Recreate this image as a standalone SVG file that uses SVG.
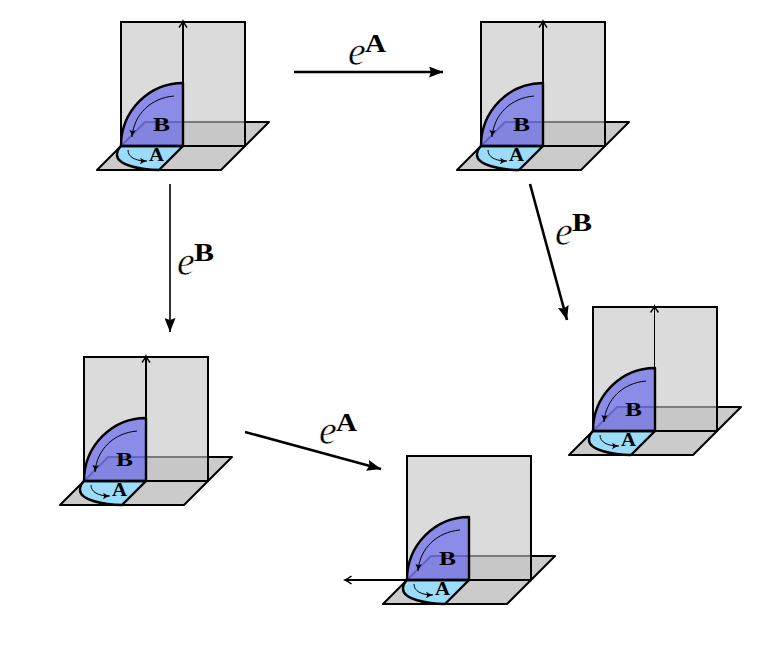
<svg xmlns="http://www.w3.org/2000/svg" width="762" height="668" viewBox="0 0 762 668">
<style>
.floor{fill:#cbcbcb;stroke:#000;stroke-width:2;stroke-linejoin:round}
.plane{fill:#c5c5c5;fill-opacity:.62}
.edge{fill:none;stroke:#000;stroke-width:2;stroke-linejoin:miter}
.secB{fill:#5555f0;fill-opacity:.6}
.secBe{fill:none;stroke:#000;stroke-width:2.4;stroke-linejoin:round}
.secA{fill:#9adcfa;stroke:#000;stroke-width:2.4;stroke-linejoin:round}
.thin{fill:none;stroke:#000;stroke-width:1;marker-end:url(#t)}
.axis{fill:none;stroke:#000;stroke-width:2;marker-end:url(#o)}
.conn{fill:none;stroke:#000;marker-end:url(#h)}
.lbl{font-family:"Liberation Serif",serif;font-weight:bold;font-size:18px;fill:#000}
.e{font-family:"Liberation Serif",serif;font-style:italic;font-size:40px;fill:#000;stroke:#fff;stroke-width:.5}
.sup{font-family:"Liberation Serif",serif;font-weight:bold;font-size:25px;fill:#000}
</style>
<defs>
<marker id="h" viewBox="0 0 14 11" refX="14" refY="5.5" markerWidth="14" markerHeight="11" markerUnits="userSpaceOnUse" orient="auto"><path d="M0 0L14 5.5L0 11L2 5.5Z" fill="#000"/></marker>
<marker id="o" viewBox="0 0 10 10" refX="8" refY="5" markerWidth="10" markerHeight="10" markerUnits="userSpaceOnUse" orient="auto"><path d="M1.5 1Q5 3.8 8 5Q5 6.2 1.5 9" fill="none" stroke="#000" stroke-width="1.5"/></marker>
<marker id="t" viewBox="0 0 8 8" refX="7.5" refY="4" markerWidth="8" markerHeight="8" markerUnits="userSpaceOnUse" orient="auto"><path d="M.5 .8Q4 3 7.5 4Q4 5 .5 7.2Q2.5 4 .5 .8Z" fill="#000"/></marker>
</defs>
<g id="connectors">
<path class="conn" style="stroke-width:2.6" d="M294 72H443"/>
<path class="conn" style="stroke-width:1.6" d="M170 184V332"/>
<path class="conn" style="stroke-width:2.6" d="M530 184L567 320"/>
<path class="conn" style="stroke-width:2.6" d="M245 432L381 469"/>
</g>
<g id="label-top"><text class="e" x="348" y="65">e</text><text class="sup" x="365" y="52" textLength="21" lengthAdjust="spacingAndGlyphs">A</text></g>
<g id="label-left"><text class="e" x="177" y="275">e</text><text class="sup" x="194" y="261" textLength="20" lengthAdjust="spacingAndGlyphs">B</text></g>
<g id="label-right"><text class="e" x="555" y="245">e</text><text class="sup" x="572" y="231" textLength="20" lengthAdjust="spacingAndGlyphs">B</text></g>
<g id="label-bottom"><text class="e" x="319" y="444">e</text><text class="sup" x="336" y="431" textLength="21" lengthAdjust="spacingAndGlyphs">A</text></g>
<g id="node-1" transform="translate(121 22)">
<path class="floor" d="M-24 148H100L148 100H24Z"/><rect class="plane" width="124" height="124"/><rect class="edge" width="124" height="124"/>
<path class="secA" d="M0 124H62L38 148C20 148-4 143-4 133Q-4 128 0 124Z"/><path class="secB" d="M0 124A62 63 0 0 1 62 61V124Z"/><path class="secBe" d="M0 124A62 63 0 0 1 62 61V124Z"/>
<path class="axis" d="M62 124V-1"/><path class="thin" d="M53 74C30 76 13 92 11 115"/><path class="thin" d="M7 128C7 135 14 139 26 139"/>
<text class="lbl" x="32" y="109" textLength="17" lengthAdjust="spacingAndGlyphs">B</text><text class="lbl" x="28" y="139" textLength="15" lengthAdjust="spacingAndGlyphs">A</text></g>
<g id="node-2" transform="translate(481 22)">
<path class="floor" d="M-24 148H100L148 100H24Z"/><rect class="plane" width="124" height="124"/><rect class="edge" width="124" height="124"/>
<path class="secA" d="M0 124H62L38 148C20 148-4 143-4 133Q-4 128 0 124Z"/><path class="secB" d="M0 124A62 63 0 0 1 62 61V124Z"/><path class="secBe" d="M0 124A62 63 0 0 1 62 61V124Z"/>
<path class="axis" d="M62 124V-1"/><path class="thin" d="M53 74C30 76 13 92 11 115"/><path class="thin" d="M7 128C7 135 14 139 26 139"/>
<text class="lbl" x="32" y="109" textLength="17" lengthAdjust="spacingAndGlyphs">B</text><text class="lbl" x="28" y="139" textLength="15" lengthAdjust="spacingAndGlyphs">A</text></g>
<g id="node-3" transform="translate(84 357)">
<path class="floor" d="M-24 148H100L148 100H24Z"/><rect class="plane" width="124" height="124"/><rect class="edge" width="124" height="124"/>
<path class="secA" d="M0 124H62L38 148C20 148-4 143-4 133Q-4 128 0 124Z"/><path class="secB" d="M0 124A62 63 0 0 1 62 61V124Z"/><path class="secBe" d="M0 124A62 63 0 0 1 62 61V124Z"/>
<path class="axis" d="M62 124V-1"/><path class="thin" d="M53 74C30 76 13 92 11 115"/><path class="thin" d="M7 128C7 135 14 139 26 139"/>
<text class="lbl" x="32" y="109" textLength="17" lengthAdjust="spacingAndGlyphs">B</text><text class="lbl" x="28" y="139" textLength="15" lengthAdjust="spacingAndGlyphs">A</text></g>
<g id="node-4" transform="translate(593 307)">
<path class="floor" d="M-24 148H100L148 100H24Z"/><rect class="plane" width="124" height="124"/><rect class="edge" width="124" height="124"/>
<path class="secA" d="M0 124H62L38 148C20 148-4 143-4 133Q-4 128 0 124Z"/><path class="secB" d="M0 124A62 63 0 0 1 62 61V124Z"/><path class="secBe" d="M0 124A62 63 0 0 1 62 61V124Z"/>
<path class="axis" style="stroke-width:1" d="M61.5 124V-1"/><path class="thin" d="M53 74C30 76 13 92 11 115"/><path class="thin" d="M7 128C7 135 14 139 26 139"/>
<text class="lbl" x="32" y="109" textLength="17" lengthAdjust="spacingAndGlyphs">B</text><text class="lbl" x="28" y="139" textLength="15" lengthAdjust="spacingAndGlyphs">A</text></g>
<g id="node-5" transform="translate(407 456)">
<path class="floor" d="M-24 148H100L148 100H24Z"/><rect class="plane" width="124" height="124"/><rect class="edge" width="124" height="124"/>
<path class="secA" d="M0 124H62L38 148C20 148-4 143-4 133Q-4 128 0 124Z"/><path class="secB" d="M0 124A62 63 0 0 1 62 61V124Z"/><path class="secBe" d="M0 124A62 63 0 0 1 62 61V124Z"/>
<path class="axis" d="M0 124H-62"/><path class="thin" d="M53 74C30 76 13 92 11 115"/><path class="thin" d="M7 128C7 135 14 139 26 139"/>
<text class="lbl" x="32" y="109" textLength="17" lengthAdjust="spacingAndGlyphs">B</text><text class="lbl" x="28" y="139" textLength="15" lengthAdjust="spacingAndGlyphs">A</text></g>
</svg>
